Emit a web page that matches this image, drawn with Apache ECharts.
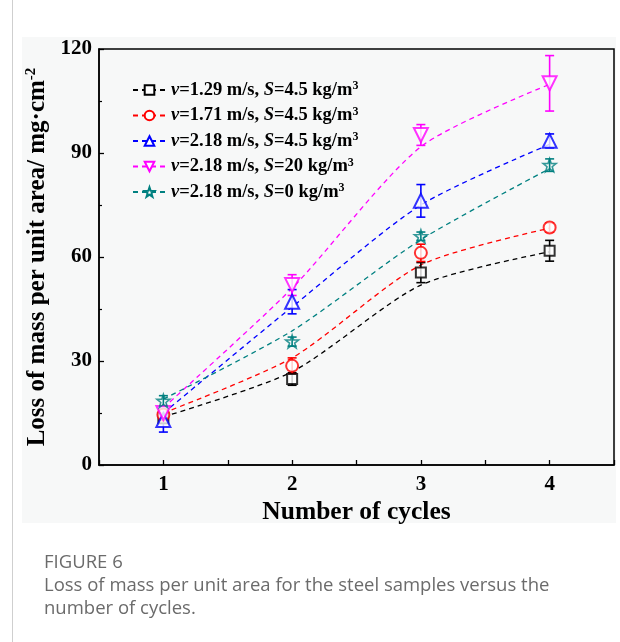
<!DOCTYPE html>
<html>
<head>
<meta charset="utf-8">
<script src="https://cdn.jsdelivr.net/npm/echarts@6/dist/echarts.min.js"></script>
<style>
  body { margin: 0; background: #fff; }
  #wrap { position: relative; width: 620px; height: 642px; overflow: hidden; }
  #edge { position: absolute; left: 12px; top: 0; width: 1px; height: 642px; background: #cfcfcf; }
  #bg { position: absolute; left: 22px; top: 37px; width: 594px; height: 486px; background: #f7f8f8; }
  #chart { position: absolute; left: 0; top: 0; width: 620px; height: 642px; }
  .cap { position: absolute; left: 44px; font-family: "Open Sans", "Noto Sans", sans-serif; color: #6b6b6b; font-size: 18.5px; white-space: nowrap; }
</style>
</head>
<body>
<div id="wrap">
  <div id="edge"></div>
  <div id="bg"></div>
  <div id="chart"></div>
  <div class="cap" style="top:548px;">FIGURE 6</div>
  <div class="cap" style="top:571px;">Loss of mass per unit area for the steel samples versus the</div>
  <div class="cap" style="top:594px;">number of cycles.</div>
</div>
<script>
// 循环次数
const cycles = [1, 2, 3, 4];
// 图例
const seriesNames = ['v=1.29 m/s, S=4.5 kg/m3', 'v=1.71 m/s, S=4.5 kg/m3', 'v=2.18 m/s, S=4.5 kg/m3', 'v=2.18 m/s, S=20 kg/m3', 'v=2.18 m/s, S=0 kg/m3'];
const legendV = ['1.29', '1.71', '2.18', '2.18', '2.18'];
const legendS = ['4.5', '4.5', '4.5', '20', '0'];
const colors = ['#000000', '#ff0000', '#0000ff', '#ff00ff', '#008080'];

// 实测值 (mg/cm2)
const lossV129 = [13.5, 24.8, 55.5, 61.8];
const lossV171 = [14.5, 28.6, 61.2, 68.5];
const lossV218 = [13.0, 47.1, 76.2, 93.5];
const lossV218S20 = [15.0, 51.9, 95.2, 110.1];
const lossV218S0 = [18.5, 35.6, 66.0, 86.5];

// 误差
const errV129 = [1.5, 1.8, 2.9, 3.0];
const errV171 = [1.5, 2.3, 2.5, 1.3];
const errV218 = [3.5, 3.5, 4.7, 2.0];
const errV218S20 = [1.5, 3.0, 3.0, 8.0];
const errV218S0 = [1.5, 1.3, 1.2, 1.8];

// 拟合曲线
const fitV129 = [13.9, 26.9, 51.9, 61.5];
const fitV171 = [15.0, 30.9, 57.7, 68.3];
const fitV218 = [15.0, 45.6, 75.0, 92.5];
const fitV218S20 = [16.5, 51.0, 91.8, 109.8];
const fitV218S0 = [19.0, 38.7, 65.0, 85.5];

const yTicks = [0, 30, 60, 90, 120];

const starPath = 'path://M0,-10L2.35,-3.24L9.51,-3.09L3.8,1.24L5.88,8.09L0,4L-5.88,8.09L-3.8,1.24L-9.51,-3.09L-2.35,-3.24Z';
const symbols = ['emptyRect', 'emptyCircle', 'emptyTriangle', 'emptyTriangle', starPath];
const rotates = [0, 0, 0, 180, 0];
const sizes = [10, 12, 14, 14, 13];

const losses = [lossV129, lossV171, lossV218, lossV218S20, lossV218S0];
const errs = [errV129, errV171, errV218, errV218S20, errV218S0];
const fits = [fitV129, fitV171, fitV218, fitV218S20, fitV218S0];

const serif = 'Liberation Serif';

let series = [];
// 拟合虚线
fits.forEach((fit, k) => {
  series.push({
    name: seriesNames[k],
    type: 'line',
    smooth: 0.25,
    showSymbol: false,
    symbol: symbols[k],
    symbolRotate: rotates[k],
    data: cycles.map((c, i) => [c, fit[i]]),
    lineStyle: { color: colors[k], width: 1.3, type: [5, 4] },
    itemStyle: k === 4
      ? { color: '#ffffff', borderColor: colors[k], borderWidth: 1.5 }
      : { color: colors[k] },
    z: 2,
    silent: true
  });
});
// 误差棒
losses.forEach((loss, k) => {
  series.push({
    name: 'err' + k,
    type: 'custom',
    data: cycles.map((c, i) => [c, loss[i] - errs[k][i], loss[i] + errs[k][i]]),
    renderItem: (params, api) => {
      const lo = api.coord([api.value(0), api.value(1)]);
      const hi = api.coord([api.value(0), api.value(2)]);
      const w = 4.5;
      const style = { stroke: colors[k], lineWidth: 1.6 };
      return {
        type: 'group',
        children: [
          { type: 'line', shape: { x1: lo[0], y1: lo[1], x2: hi[0], y2: hi[1] }, style },
          { type: 'line', shape: { x1: lo[0] - w, y1: lo[1], x2: lo[0] + w, y2: lo[1] }, style },
          { type: 'line', shape: { x1: hi[0] - w, y1: hi[1], x2: hi[0] + w, y2: hi[1] }, style }
        ]
      };
    },
    z: 3,
    silent: true
  });
});
// 数据点
losses.forEach((loss, k) => {
  series.push({
    name: 'pt' + k,
    type: 'scatter',
    symbol: symbols[k],
    symbolRotate: rotates[k],
    symbolSize: sizes[k],
    data: cycles.map((c, i) => [c, loss[i]]),
    itemStyle: k === 4
      ? { color: 'rgba(0,0,0,0)', borderColor: colors[k], borderWidth: 1.6 }
      : { color: colors[k], borderWidth: 1.6 },
    z: 4,
    silent: true
  });
});

let chart = echarts.init(document.getElementById('chart'));
chart.setOption({
  animation: false,
  grid: {
    left: 99,
    right: 6,
    top: 49,
    bottom: 177,
    show: true,
    borderColor: '#000',
    borderWidth: 1.5
  },
  legend: {
    data: seriesNames,
    orient: 'vertical',
    left: 127,
    top: 75,
    itemWidth: 33,
    itemHeight: 12,
    itemGap: 6,
    selectedMode: false,
    formatter: (name) => {
      const k = seriesNames.indexOf(name);
      return `{i|v}{t|=${legendV[k]} m/s, }{i|S}{t|=${legendS[k]} kg/m}{s|3}`;
    },
    textStyle: {
      fontFamily: serif,
      fontWeight: 'bold',
      fontSize: 18.5,
      color: '#000',
      rich: {
        t: { fontFamily: serif, fontWeight: 'bold', fontSize: 18.5, color: '#000', lineHeight: 20 },
        i: { fontFamily: serif, fontWeight: 'bold', fontStyle: 'italic', fontSize: 18.5, color: '#000', lineHeight: 20 },
        s: { fontFamily: serif, fontWeight: 'bold', fontSize: 12, color: '#000', lineHeight: 12, verticalAlign: 'top' }
      }
    }
  },
  xAxis: {
    type: 'value',
    min: 0.5,
    max: 4.5,
    interval: 0.5,
    name: 'Number of cycles',
    nameLocation: 'middle',
    nameGap: 28,
    nameTextStyle: { fontFamily: serif, fontWeight: 'bold', fontSize: 25.5, color: '#000' },
    axisLine: { lineStyle: { color: '#000', width: 1.5 } },
    axisTick: { inside: true, length: 5, lineStyle: { color: '#000', width: 1.3 } },
    axisLabel: {
      margin: 9,
      fontFamily: serif,
      fontWeight: 'bold',
      fontSize: 21,
      color: '#000',
      formatter: (v) => (cycles.indexOf(v) >= 0 ? String(v) : '')
    },
    splitLine: { show: false }
  },
  yAxis: {
    type: 'value',
    min: yTicks[0],
    max: yTicks[yTicks.length - 1],
    interval: 30,
    name: '{a|Loss of mass per unit area/ mg·cm}{b|-2}',
    nameLocation: 'middle',
    nameGap: 46,
    nameRotate: 90,
    nameTextStyle: {
      fontFamily: serif,
      fontWeight: 'bold',
      fontSize: 25,
      color: '#000',
      rich: {
        a: { fontFamily: serif, fontWeight: 'bold', fontSize: 25, color: '#000', lineHeight: 26 },
        b: { fontFamily: serif, fontWeight: 'bold', fontSize: 15, color: '#000', lineHeight: 15, verticalAlign: 'top' }
      }
    },
    axisLine: { show: true, lineStyle: { color: '#000', width: 1.5 } },
    axisTick: { inside: true, length: 5, lineStyle: { color: '#000', width: 1.3 } },
    minorTick: { show: true, splitNumber: 2, length: 3, lineStyle: { color: '#000', width: 1.2 } },
    axisLabel: {
      margin: 7,
      fontFamily: serif,
      fontWeight: 'bold',
      fontSize: 21,
      color: '#000'
    },
    splitLine: { show: false }
  },
  series
});
</script>
</body>
</html>
